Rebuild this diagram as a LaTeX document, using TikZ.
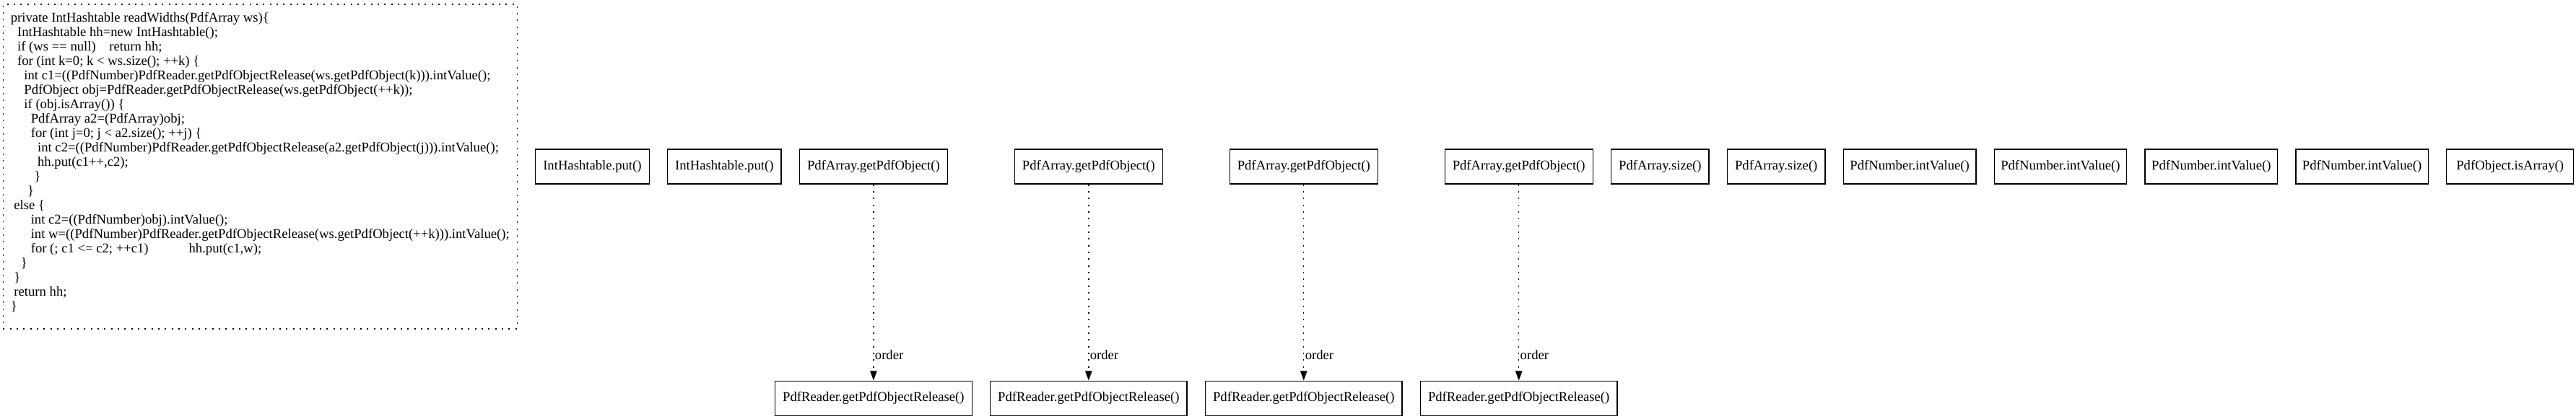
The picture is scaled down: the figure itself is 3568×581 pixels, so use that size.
\documentclass[tikz,border=0pt]{standalone}
\usepackage{fontspec}
\setmainfont{Liberation Serif}
\usepackage{tikz}
\usetikzlibrary{positioning, arrows.meta}
\tikzset{
    call/.style = {draw, line width=1pt, minimum height=36pt, inner xsep=0.11in, inner ysep=0.055in},
    dots/.style = {dash pattern=on 1.5pt off 5.5pt},
}
\tikzset{
    codebox/.style = {call, dots, align=left, minimum height=337.5pt},
    order edge/.style = {draw, dots, line width=1pt, -{Triangle[length=10pt, width=7pt]}},
    lbl/.style = {pos=0.87, anchor=west, inner sep=1pt},
}
\newcommand{\ind}[1]{\hspace*{#1\fontdimen2\font}}

\begin{document}
\begin{tikzpicture}[x=0.75pt, y=-0.75pt, node distance=18pt, font=\fontsize{14}{15}\selectfont]
            \useasboundingbox (0,0) rectangle (3568,581);
            \node[codebox, anchor=east] (src) at (717,231) {%
private IntHashtable readWidths(PdfArray ws)\{\\
\ind{2}IntHashtable hh=new IntHashtable();\\
\ind{2}if (ws == null)\ind{4}return hh;\\
\ind{2}for (int k=0; k < ws.size(); ++k) \{\\
\ind{4}int c1=((PdfNumber)PdfReader.getPdfObjectRelease(ws.getPdfObject(k))).intValue();\\
\ind{4}PdfObject obj=PdfReader.getPdfObjectRelease(ws.getPdfObject(++k));\\
\ind{4}if (obj.isArray()) \{\\
\ind{6}PdfArray a2=(PdfArray)obj;\\
\ind{6}for (int j=0; j < a2.size(); ++j) \{\\
\ind{8}int c2=((PdfNumber)PdfReader.getPdfObjectRelease(a2.getPdfObject(j))).intValue();\\
\ind{8}hh.put(c1++,c2);\\
\ind{7}\}\\
\ind{5}\}\\
\ind{1}else \{\\
\ind{6}int c2=((PdfNumber)obj).intValue();\\
\ind{6}int w=((PdfNumber)PdfReader.getPdfObjectRelease(ws.getPdfObject(++k))).intValue();\\
\ind{6}for (; c1 <= c2; ++c1)\ind{12}hh.put(c1,w);\\
\ind{3}\}\\
\ind{1}\}\\
\ind{1}return hh;\\
\}\\[-9pt]
\strut};
            \node[call, right=of src] (put1) {IntHashtable.put()};
            \node[call, right=of put1] (put2) {IntHashtable.put()};
            \node[call, right=of put2] (get1) {PdfArray.getPdfObject()};
            \node[call, below=204pt of get1] (rel1) {PdfReader.getPdfObjectRelease()};
            \node[call, right=of rel1] (rel2) {PdfReader.getPdfObjectRelease()};
            \node[call, right=of rel2] (rel3) {PdfReader.getPdfObjectRelease()};
            \node[call, right=of rel3] (rel4) {PdfReader.getPdfObjectRelease()};
            \node[call, above=204pt of rel2] (get2) {PdfArray.getPdfObject()};
            \node[call, above=204pt of rel3] (get3) {PdfArray.getPdfObject()};
            \node[call, above=204pt of rel4] (get4) {PdfArray.getPdfObject()};
            \node[call, right=of get4] (size1) {PdfArray.size()};
            \node[call, right=of size1] (size2) {PdfArray.size()};
            \node[call, inner xsep=6.8pt, right=of size2] (int1) {PdfNumber.intValue()};
            \node[call, inner xsep=6.8pt, right=of int1] (int2) {PdfNumber.intValue()};
            \node[call, inner xsep=6.8pt, right=of int2] (int3) {PdfNumber.intValue()};
            \node[call, inner xsep=6.8pt, right=of int3] (int4) {PdfNumber.intValue()};
            \node[call, minimum width=132pt, right=of int4] (isarr) {PdfObject.isArray()};

            \foreach \i in {1,...,4}
                \draw[order edge] (get\i) -- node[lbl] {order} (rel\i);
        \end{tikzpicture}
\end{document}
